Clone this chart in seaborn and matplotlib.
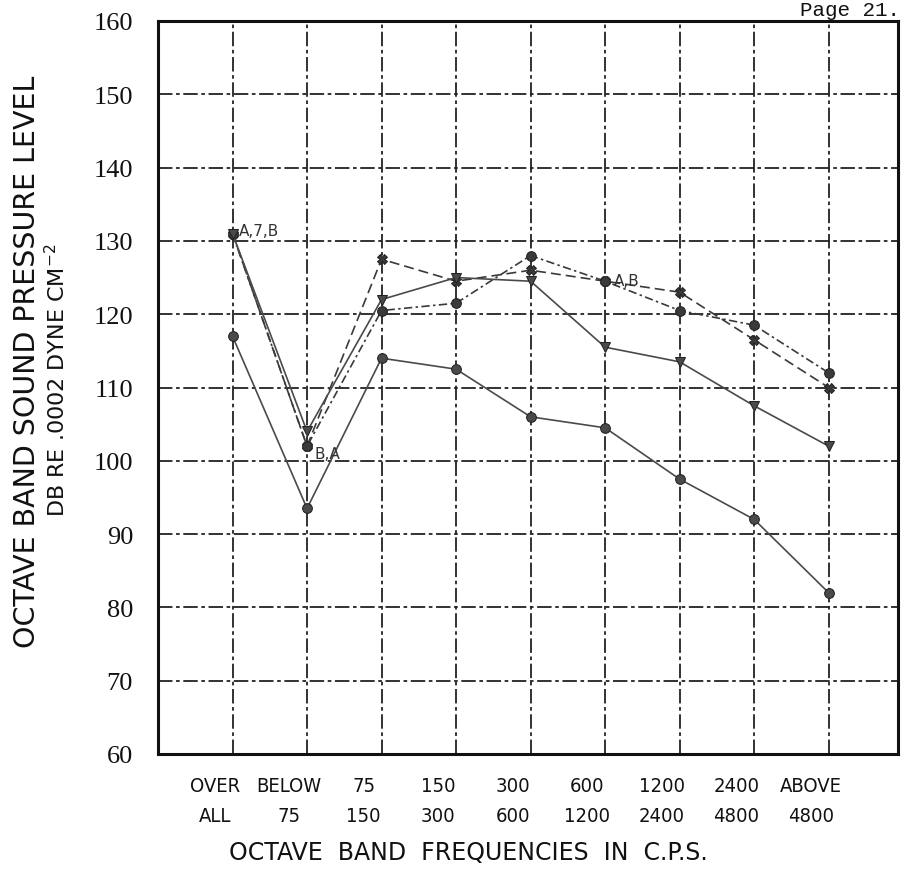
import matplotlib
matplotlib.use("Agg")
import matplotlib.pyplot as plt
import seaborn as sns
import pandas as pd

# ---- data ----
bands = ["OVER\nALL", "BELOW\n75", "75\n150", "150\n300", "300\n600",
         "600\n1200", "1200\n2400", "2400\n4800", "ABOVE\n4800"]
series_A = [131, 102, 127.5, 124.5, 126, 124.5, 123, 116.5, 110]
series_B = [131, 102, 120.5, 121.5, 128, 124.5, 120.5, 118.5, 112]
series_7 = [131, 104, 122, 125, 124.5, 115.5, 113.5, 107.5, 102]
series_2 = [117, 93.5, 114, 112.5, 106, 104.5, 97.5, 92, 82]
yticks = [60, 70, 80, 90, 100, 110, 120, 130, 140, 150, 160]

names = ["A", "B", "7", "2"]
values = [series_A, series_B, series_7, series_2]
rows = []
for n, v in zip(names, values):
    for i, val in enumerate(v):
        rows.append({"series": n, "pos": i + 1, "level": val})
df = pd.DataFrame(rows)

sns.set_theme(style="white")
plt.rcParams["font.family"] = ["DejaVu Sans"]

fig = plt.figure(figsize=(9.09, 8.79), dpi=100)
ax = fig.add_axes([158 / 909, 1 - 755 / 879, (898 - 158) / 909, (755 - 22) / 879])

palette = {"A": "#3a3a3a", "B": "#3a3a3a", "7": "#4a4a4a", "2": "#4a4a4a"}
markers = {"A": "X", "B": "o", "7": "v", "2": "o"}
dashes = {"A": (6, 3), "B": (5, 2, 1.5, 2), "7": "", "2": ""}
sns.lineplot(data=df, x="pos", y="level", hue="series", style="series",
             palette=palette, markers=markers, dashes=dashes, legend=False,
             linewidth=1.2, markersize=7, markeredgecolor="#222222", ax=ax)

ax.set_xlim(0, 9.93)
ax.set_ylim(60, 160)
positions = list(range(1, 10))
# labels sit slightly left of the grid lines, as in the reference
ax.set_xticks([p - 0.24 for p in positions])
ax.set_xticklabels(bands, fontsize=14.5, linespacing=1.7,
                   family=["DejaVu Sans"], fontstretch="condensed")
ax.set_xticks(positions, minor=True)
ax.set_yticks(yticks)
ax.set_yticklabels([str(t) for t in yticks], fontsize=19,
                   family=["Liberation Serif", "DejaVu Serif"])
ax.tick_params(axis="x", which="both", length=0, pad=16, colors="#111111")
ax.tick_params(axis="y", length=0, pad=18, colors="#111111")

grid_kw = dict(color="#222222", linestyle=(0, (8, 2, 2, 2)), linewidth=1.3)
ax.grid(False)
ax.xaxis.grid(True, which="minor", **grid_kw)
ax.yaxis.grid(True, which="major", **grid_kw)
for s in ax.spines.values():
    s.set_color("#111111")
    s.set_linewidth(2.2)

ax.set_xlabel("")
ax.set_ylabel("")

# annotations
ax.text(1.08, 131.4, "A,7,B", fontsize=11, color="#333333", va="center")
ax.text(2.1, 101.0, "B,A", fontsize=11, color="#333333", va="center")
ax.text(6.12, 124.6, "A,B", fontsize=11, color="#333333", va="center")

fig.text(468 / 909, 1 - 853 / 879, "OCTAVE  BAND  FREQUENCIES  IN  C.P.S.",
         fontsize=17, ha="center", va="center", color="#111111")
fig.text(27 / 909, 1 - 362 / 879, "OCTAVE BAND SOUND PRESSURE LEVEL",
         fontsize=20.5, rotation=90, ha="center", va="center", color="#111111")
fig.text(57 / 909, 1 - 380 / 879, "DB RE .0002 DYNE CM$^{-2}$",
         fontsize=16, rotation=90, ha="center", va="center", color="#111111")
fig.text(850 / 909, 1 - 10 / 879, "Page 21.", fontsize=15, ha="center",
         va="center", color="#111111", family=["Liberation Mono", "DejaVu Sans Mono"])

fig.savefig("out.png", dpi=100, facecolor="white")
